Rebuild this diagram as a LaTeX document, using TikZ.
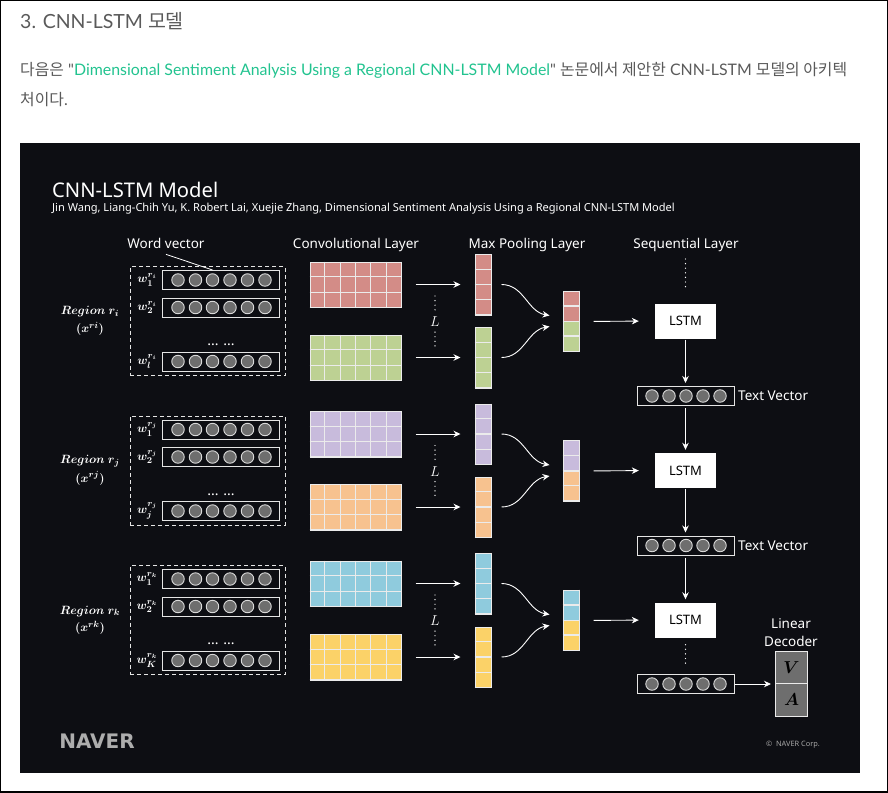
\documentclass[tikz,border=0pt]{standalone}
\usepackage{amsmath}
\usepackage{fontspec}
\setmainfont{Lato}
\newfontfamily\quotefont{Lato}
\newfontfamily\krfont{Noto Sans CJK KR}
\newfontfamily\panelfont{Noto Sans}
\newfontfamily\heavyfont{DejaVu Sans}
\usetikzlibrary{calc}
\usetikzlibrary{arrows.meta}
\definecolor{panelbg}{HTML}{0D0E13}
\definecolor{pagetext}{HTML}{5A5A5A}
\definecolor{linktext}{HTML}{22C38F}
\definecolor{unitgray}{HTML}{6E6E6E}
\definecolor{cellred}{HTML}{D38C87}
\definecolor{cellgreen}{HTML}{BDD193}
\definecolor{cellpurple}{HTML}{C8BBDC}
\definecolor{cellorange}{HTML}{F7C28F}
\definecolor{cellblue}{HTML}{8FCBDD}
\definecolor{cellyellow}{HTML}{FBD268}
\tikzset{
    panellabel/.style={text=white, font=\panelfont\fontsize{13.5}{15}\selectfont, inner sep=0},
    pagelabel/.style={text=pagetext, anchor=west, inner sep=0, font=\fontsize{15.9}{18}\selectfont},
    mathlabel/.style={text=white, inner sep=0, font=\fontsize{12.6}{15}\selectfont\boldmath},
    wordlabel/.style={text=white, inner sep=0, font=\fontsize{13}{15}\selectfont\boldmath},
    unitrow/.style={draw=white!90!black, line width=1pt, minimum width=#1, minimum height=19pt, inner sep=0},
    unitdot/.style={circle, draw=white!85!black, fill=unitgray, line width=.9pt, minimum size=12.5pt, inner sep=0},
    cellblock/.style={draw=white!92!black, line width=1pt, fill=#1, inner sep=0},
    lstmbox/.style={fill=white, minimum width=61pt, minimum height=35pt, inner sep=0, text=black, font=\panelfont\fontsize{13}{15}\selectfont},
    flow/.style={draw=white, line width=.9pt, -{Stealth[length=7pt,width=6.5pt]}},
    dotline/.style={draw=white, line width=1.4pt, line cap=round, dash pattern=on 0pt off 4.6pt}
}
% grid lines of a named block
\newcommand{\cellgrid}[3]{
    \foreach \i in {1,...,#2}{
        \draw[white!92!black, line width=1.1pt] ($(#1.north west)!{\i/#2}!(#1.north east)$) -- ($(#1.south west)!{\i/#2}!(#1.south east)$);
    }
    \foreach \i in {1,...,#3}{
        \draw[white!92!black, line width=1.1pt] ($(#1.north west)!{\i/#3}!(#1.south west)$) -- ($(#1.north east)!{\i/#3}!(#1.south east)$);
    }
}
\begin{document}
\begin{tikzpicture}[x=1pt,y=-1pt]
\useasboundingbox (0,0) rectangle (888,792);
\draw[black, line width=2pt] (0,0) rectangle (888,792);
\fill[panelbg] (20,143) rectangle (860,773);
% page text
\node[pagelabel, font=\fontsize{19.5}{22}\selectfont] (heading) at (20,21) {3. CNN-LSTM {\krfont 모델}};
\node[pagelabel] (paraone) at (20,70.5) {{\krfont 다음은} {\quotefont "}{\color{linktext}Dimensional Sentiment Analysis Using a Regional CNN-LSTM Model}{\quotefont "} {\krfont 논문에서 제안한} CNN-LSTM {\krfont 모델의 아키텍}};
\node[pagelabel] (paratwo) at (20,100) {{\krfont 처이다}.};
% panel title
\node[panellabel, anchor=west, font=\panelfont\fontsize{20.2}{22}\selectfont] (title) at (52,190) {CNN-LSTM Model};
\node[panellabel, anchor=west, font=\panelfont\fontsize{11.05}{13}\selectfont] (authors) at (52,209) {Jin Wang, Liang-Chih Yu, K. Robert Lai, Xuejie Zhang, Dimensional Sentiment Analysis Using a Regional CNN-LSTM Model};
\node[panellabel, anchor=base] (wordvec) at (166,248) {Word vector};
\node[panellabel, anchor=base] (convhead) at (356,248) {Convolutional Layer};
\node[panellabel, anchor=base] (poolhead) at (527,248) {Max Pooling Layer};
\node[panellabel, anchor=base] (seqhead) at (686,248) {Sequential Layer};
% the three regions
\foreach \rg/\off/\ypoola/\ypoolb/\ymerge/\cola/\colb/\last in {
    i/0/284.5/357.5/321/cellred/cellgreen/l,
    j/149.5/434/507/470.5/cellpurple/cellorange/j,
    k/299/583.5/657/620/cellblue/cellyellow/K}{
    \node[draw=white!90!black, dashed, dash pattern=on 4pt off 3pt, line width=1pt, minimum width=155pt, minimum height=109pt, inner sep=0] (box\rg) at (207.5,{321+\off}) {};
    \node[mathlabel] (region\rg) at (90,{312+\off}) {$Region\ r_{\rg}$};
    \node[mathlabel] (regionx\rg) at (90,{329+\off}) {$(x^{r\rg})$};
    \foreach \row/\yw/\sb in {1/280/1, 2/307.5/2, 3/361.5/\last}{
        \node[unitrow=116.5pt] (word\rg\row) at (221,{\yw+\off}) {};
        \node[wordlabel] (wordname\rg\row) at (147,{\yw+\off}) {$w_{\sb}^{r_{\rg}}$};
        \foreach \k/\xd in {1/178, 2/195.5, 3/212.5, 4/230, 5/247.5, 6/265}{
            \node[unitdot] (word\rg\row c\k) at (\xd,{\yw+\off}) {};
        }
    }
    \node[text=white, inner sep=0, font=\panelfont\bfseries\fontsize{14}{16}\selectfont] (more\rg) at (221,{345+\off}) {... ...};
    % conv blocks and pooled columns
    \node[cellblock=\cola, minimum width=91pt, minimum height=45pt] (conv\rg a) at (355.5,\ypoola) {};
    \node[cellblock=\colb, minimum width=91pt, minimum height=45pt] (conv\rg b) at (355.5,\ypoolb) {};
    \cellgrid{conv\rg a}{6}{3}
    \cellgrid{conv\rg b}{6}{3}
    \node[cellblock=\cola, minimum width=16pt, minimum height=60pt] (pool\rg a) at (483,\ypoola) {};
    \node[cellblock=\colb, minimum width=16pt, minimum height=60pt] (pool\rg b) at (483,\ypoolb) {};
    \cellgrid{pool\rg a}{1}{4}
    \cellgrid{pool\rg b}{1}{4}
    \node[cellblock=\cola, minimum width=16pt, minimum height=30pt] (merge\rg a) at (571,{\ymerge-15}) {};
    \node[cellblock=\colb, minimum width=16pt, minimum height=30pt] (merge\rg b) at (571,{\ymerge+15}) {};
    \cellgrid{merge\rg a}{1}{2}
    \cellgrid{merge\rg b}{1}{2}
    \node[lstmbox] (lstm\rg) at (685.5,{\ymerge}) {LSTM};
    % arrows
    \draw[flow, shorten <=14pt, shorten >=14pt] (conv\rg a.east) -- (pool\rg a.west);
    \draw[flow, shorten <=14pt, shorten >=14pt] (conv\rg b.east) -- (pool\rg b.west);
    \draw[flow] ([xshift=10pt]pool\rg a.east) to[out=0, in=170] ([xshift=-13pt,yshift=6pt]merge\rg a.south west);
    \draw[flow] ([xshift=10pt]pool\rg b.east) to[out=0, in=190] ([xshift=-13pt,yshift=-6pt]merge\rg b.north west);
    \draw[flow, shorten >=16pt, shorten <=14pt] (merge\rg a.south east) -- (lstm\rg.west);
    \node[text=white, inner sep=0, font=\fontsize{14}{16}\selectfont] (ell\rg) at (435,{322+\off}) {$L$};
    \coordinate (elltop\rg) at (435,{296+\off});
    \coordinate (ellbot\rg) at (435,{347+\off});
    \draw[dotline] (elltop\rg) -- ([yshift=3pt]ell\rg.north);
    \draw[dotline] ([yshift=-5pt]ell\rg.south) -- (ellbot\rg);
}
\coordinate (pointer) at (212.5,270);
\draw[white, line width=.8pt] (wordvec.south) ++(0,6) -- (pointer);
% text vectors
\foreach \v/\yv in {1/396, 2/545.5, 3/684}{
    \node[unitrow=97pt] (vec\v) at (685.5,\yv) {};
    \foreach \k/\xd in {1/652, 2/669, 3/686, 4/703, 5/720}{
        \node[unitdot] (vec\v c\k) at (\xd,\yv) {};
    }
}
\node[panellabel, anchor=west] (textvec1) at (738,396) {Text Vector};
\node[panellabel, anchor=west] (textvec2) at (738,545.5) {Text Vector};
\draw[flow, shorten <=1pt, shorten >=3pt] (lstmi) -- (vec1);
\draw[flow, shorten <=2pt, shorten >=3pt] (vec1) -- (lstmj);
\draw[flow, shorten <=1pt, shorten >=3pt] (lstmj) -- (vec2);
\draw[flow, shorten <=2pt, shorten >=3pt] (vec2) -- (lstmk);
% dots in the sequence
\coordinate (seqtop) at (685.5,259);
\coordinate (seqgap) at (685.5,290);
\coordinate (seqlow) at (685.5,667);
\draw[dotline] (seqtop) -- (seqgap);
\draw[dotline] ([yshift=-7pt]lstmk.south) -- (seqlow);
% decoder
\node[cellblock=unitgray, minimum width=32pt, minimum height=32.5pt, text=black, font=\fontsize{18}{21}\selectfont\boldmath] (decv) at (791.5,667.25) {$V$};
\node[cellblock=unitgray, minimum width=32pt, minimum height=32.5pt, text=black, font=\fontsize{18}{21}\selectfont\boldmath] (deca) at (791.5,699.75) {$A$};
\node[panellabel, anchor=base] (linear) at (791,628) {Linear};
\node[panellabel, anchor=base] (decoder) at (791,646) {Decoder};
\coordinate (decin) at (771,684);
\draw[flow] (vec3.east) -- (decin);
% footer
\node[inner sep=0, text=white!68!black, font=\heavyfont\bfseries\fontsize{20}{22}\selectfont] (naver) at (97,741) {NAVER};
\node[inner sep=0, text=white!65!black, font=\panelfont\fontsize{7.4}{8}\selectfont] (corp) at (793,745) {©\ \ NAVER Corp.};
\end{tikzpicture}
\end{document}
